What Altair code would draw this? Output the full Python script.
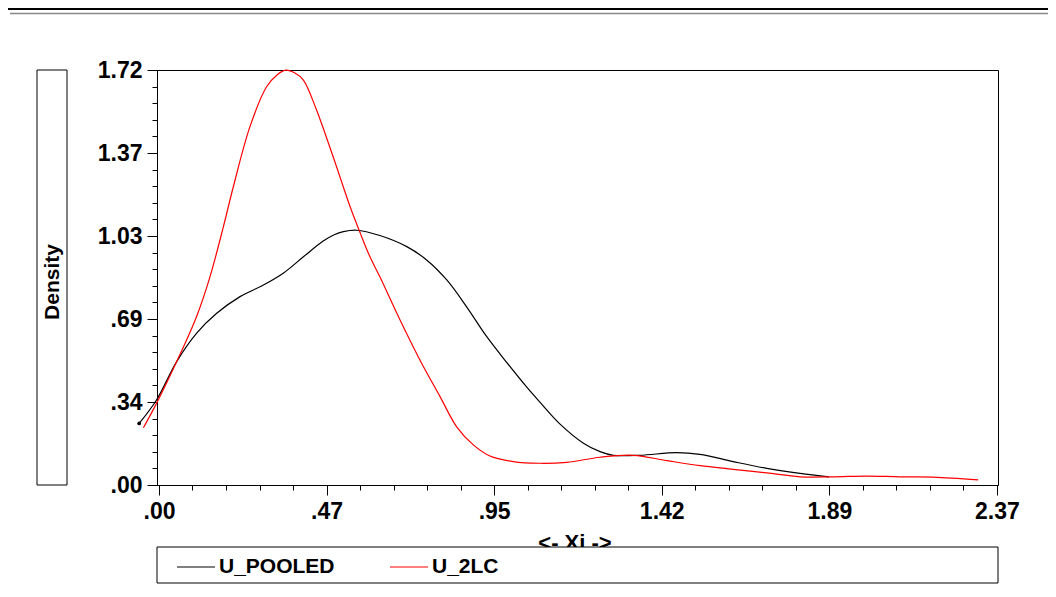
import json
import altair as alt
import pandas as pd

# ---- data ----
pooled_x = [-0.056, -0.007, 0.050, 0.106, 0.163, 0.229, 0.295, 0.351, 0.408, 0.464,
            0.495, 0.521, 0.558, 0.624, 0.700, 0.756, 0.813, 0.869, 0.926, 0.982,
            1.039, 1.076, 1.133, 1.199, 1.246, 1.283, 1.359, 1.462, 1.528, 1.622,
            1.717, 1.811, 1.893]
pooled_y = [0.255, 0.352, 0.511, 0.628, 0.711, 0.780, 0.828, 0.877, 0.945, 1.010,
            1.036, 1.049, 1.055, 1.033, 0.987, 0.932, 0.849, 0.738, 0.614, 0.508,
            0.405, 0.343, 0.252, 0.173, 0.138, 0.123, 0.123, 0.134, 0.127, 0.097,
            0.069, 0.048, 0.034]

lc_x = [-0.044, -0.007, 0.050, 0.106, 0.144, 0.182, 0.210, 0.257, 0.304, 0.335,
        0.358, 0.384, 0.408, 0.445, 0.492, 0.540, 0.568, 0.596, 0.624, 0.681, 0.737,
        0.794, 0.841, 0.888, 0.935, 1.001, 1.076, 1.152, 1.246, 1.340, 1.434,
        1.528, 1.622, 1.717, 1.811, 1.905, 1.999, 2.093, 2.187, 2.314]
lc_y = [0.237, 0.338, 0.511, 0.697, 0.862, 1.070, 1.235, 1.484, 1.649, 1.700,
        1.718, 1.706, 1.677, 1.553, 1.359, 1.152, 1.045, 0.945, 0.862, 0.683, 0.518,
        0.366, 0.241, 0.166, 0.120, 0.097, 0.090, 0.094, 0.115, 0.123, 0.101,
        0.080, 0.065, 0.050, 0.034, 0.034, 0.037, 0.034, 0.033, 0.021]

series_names = ["U_POOLED", "U_2LC"]
series_colors = ["#000000", "#ff0000"]

x_major = [0.0, 0.4734, 0.9468, 1.4202, 1.8936, 2.367]
x_labels = [".00", ".47", ".95", "1.42", "1.89", "2.37"]
y_major = [0.0, 0.3437, 0.6874, 1.0311, 1.3748, 1.7185]
y_labels = [".00", ".34", ".69", "1.03", "1.37", "1.72"]
n_minor = 5

x_title = "<- Xi ->"
y_title = "Density"

FONT = "Liberation Sans"
W, H = 841, 415

# ---- build tables ----
df = pd.DataFrame({
    "x": pooled_x + lc_x,
    "y": pooled_y + lc_y,
    "series": [series_names[0]] * len(pooled_x) + [series_names[1]] * len(lc_x),
    "order": list(range(len(pooled_x))) + list(range(len(lc_x))),
})
start_df = pd.DataFrame({"x": [pooled_x[0]], "y": [pooled_y[0]]})


def subdivide(majors, n):
    out = []
    for a, b in zip(majors[:-1], majors[1:]):
        for k in range(n):
            out.append(round(a + (b - a) * k / n, 6))
    out.append(majors[-1])
    return out


x_ticks = subdivide(x_major, n_minor)
y_ticks = subdivide(y_major, n_minor)
x_step = x_ticks[1] - x_ticks[0]
y_step = y_ticks[1] - y_ticks[0]

x_test = f"round(datum.value/{x_step}) % {n_minor} == 0"
y_test = f"round(datum.value/{y_step}) % {n_minor} == 0"
x_expr = f"{x_test} ? {json.dumps(x_labels)}[round(datum.value/{x_step})/{n_minor}] : ''"
y_expr = f"{y_test} ? {json.dumps(y_labels)}[round(datum.value/{y_step})/{n_minor}] : ''"

x_scale = alt.Scale(domain=[-0.0056, 2.3701], nice=False, zero=False)
y_scale = alt.Scale(domain=[0, 1.7185], nice=False, zero=False)

x_axis = alt.Axis(
    values=x_ticks, tickCount=200, labelExpr=x_expr, title=None, grid=False,
    tickSize={"condition": {"test": x_test, "value": 10}, "value": 5},
    tickColor="black", domainColor="black", labelColor="black",
    labelFont=FONT, labelFontSize=23, labelFontWeight="bold",
    labelPadding=5, labelOverlap=False, labelFlush=False, labelAlign="center",
)
y_axis = alt.Axis(
    values=y_ticks, tickCount=200, labelExpr=y_expr, title=None, grid=False,
    tickSize={"condition": {"test": y_test, "value": 10}, "value": 5},
    tickColor="black", domainColor="black", labelColor="black",
    labelFont=FONT, labelFontSize=23, labelFontWeight="bold",
    labelPadding=5, labelOverlap=False, labelFlush=False,
)

one = pd.DataFrame({"a": [0]})

lines = alt.Chart(df).mark_line(strokeWidth=1.2, interpolate="catmull-rom").encode(
    x=alt.X("x:Q", scale=x_scale, axis=x_axis),
    y=alt.Y("y:Q", scale=y_scale, axis=y_axis),
    order="order:Q",
    color=alt.Color(
        "series:N",
        scale=alt.Scale(domain=series_names, range=series_colors),
        legend=alt.Legend(
            title=None, orient="none", legendX=19, legendY=477,
            direction="horizontal", symbolType="stroke", symbolSize=1444,
            symbolStrokeWidth=1.2, labelFont=FONT, labelFontSize=21,
            labelFontWeight="bold", labelColor="black", labelOffset=3,
            columnPadding=52, padding=0,
        ),
    ),
)

start_pt = alt.Chart(start_df).mark_circle(size=14, color="black", opacity=1).encode(
    x=alt.X("x:Q", scale=x_scale), y=alt.Y("y:Q", scale=y_scale)
)

ybox = alt.Chart(one).mark_rect(fill="white", stroke="black", strokeWidth=1).encode(
    x=alt.value(-120), x2=alt.value(-90), y=alt.value(0), y2=alt.value(H)
)
ytitle = alt.Chart(pd.DataFrame({"t": [y_title]})).mark_text(
    angle=270, font=FONT, fontSize=21, fontWeight="bold", color="black",
    align="center", baseline="middle",
).encode(text="t:N", x=alt.value(-104), y=alt.value(212))

xtitle = alt.Chart(pd.DataFrame({"t": [x_title]})).mark_text(
    font=FONT, fontSize=22, fontWeight="bold", color="black",
    align="center", baseline="alphabetic",
).encode(text="t:N", x=alt.value(418), y=alt.value(480))

legbox = alt.Chart(one).mark_rect(fill="white", stroke="black", strokeWidth=1).encode(
    x=alt.value(0), x2=alt.value(W), y=alt.value(477), y2=alt.value(513)
)

top_black = alt.Chart(one).mark_rule(color="black", strokeWidth=2.2).encode(
    x=alt.value(-149), x2=alt.value(891), y=alt.value(-61)
)
top_gray = alt.Chart(one).mark_rule(color="#888888", strokeWidth=1.5).encode(
    x=alt.value(-147), x2=alt.value(891), y=alt.value(-56.5)
)

chart = alt.layer(
    ybox, ytitle, xtitle, legbox, lines, start_pt, top_black, top_gray
).properties(
    width=W, height=H,
    autosize=alt.AutoSizeParams(type="none"),
    padding={"left": 149, "top": 62, "right": 50, "bottom": 100},
    background="white",
).configure_view(stroke="black", strokeWidth=1)

chart.save("out.html", embed_options={"renderer": "svg", "actions": False})
